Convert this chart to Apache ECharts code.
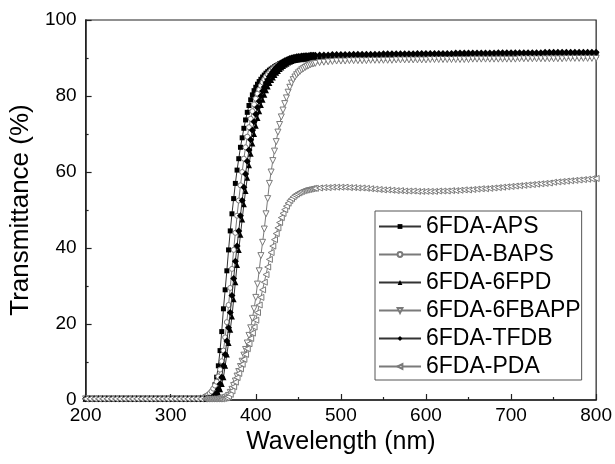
<!DOCTYPE html>
<html>
<head>
<meta charset="utf-8">
<script src="https://cdn.jsdelivr.net/npm/echarts@6/dist/echarts.min.js"></script>
<style>
  html, body { margin: 0; padding: 0; background: #fff; }
  #chart { width: 615px; height: 464px; }
</style>
</head>
<body>
<div id="chart"></div>
<script>
// Wavelength grid (nm): coarse on the flat baseline/plateau, finer across the absorption edge
const wavelength = [
  200,205,210,215,220,225,230,235,240,245,250,255,260,265,270,275,280,285,290,295,
  300,305,310,315,320,325,330,335,340,
  342,344,346,348,350,352,354,356,358,360,362,364,366,368,370,372,374,376,378,380,
  382,384,386,388,390,392,394,396,398,400,402,404,406,408,410,412,414,416,418,420,
  422,424,426,428,430,432,434,436,438,440,442,444,446,448,450,452,454,456,458,460,
  462,464,466,468,470,
  475,480,485,490,495,500,505,510,515,520,525,530,535,540,545,550,555,560,565,570,
  575,580,585,590,595,600,605,610,615,620,625,630,635,640,645,650,655,660,665,670,
  675,680,685,690,695,700,705,710,715,720,725,730,735,740,745,750,755,760,765,770,
  775,780,785,790,795,800
];

// Transmittance (%) of each polyimide film
const aps = [
  0.3,0.3,0.3,0.3,0.3,0.3,0.3,0.3,0.3,0.3,0.3,0.3,0.3,0.3,0.3,0.3,0.3,0.3,0.3,0.3,
  0.3,0.3,0.3,0.3,0.3,0.3,0.3,0.3,0.4,
  0.6,0.8,1.2,1.8,2.6,4,6,9,13,18,24,29,34,39.5,44.5,49,53,57,60.5,63.5,
  66.5,69,71.5,73.7,75.7,77.5,79,80.3,81.4,82.3,83.1,83.8,84.4,85,85.5,86,86.4,86.8,87.1,87.4,
  87.7,88,88.2,88.5,88.7,88.9,89,89.2,89.3,89.4,89.5,89.6,89.7,89.8,89.8,89.9,89.9,90,90,90.1,
  90.1,90.1,90.2,90.2,90.2,
  90.3,90.3,90.3,90.4,90.4,90.4,90.4,90.4,90.5,90.5,90.5,90.5,90.5,90.5,90.5,90.5,90.6,90.6,90.6,90.6,
  90.6,90.6,90.6,90.6,90.6,90.6,90.6,90.7,90.7,90.7,90.7,90.7,90.7,90.7,90.7,90.7,90.7,90.7,90.8,90.8,
  90.8,90.8,90.8,90.8,90.8,90.8,90.8,90.8,90.9,90.9,90.9,90.9,90.9,90.9,90.9,90.9,91,91,91,91,
  91,91,91,91,91.1,91.1
];
const baps = [
  0.3,0.3,0.3,0.3,0.3,0.3,0.3,0.3,0.3,0.3,0.3,0.3,0.3,0.3,0.3,0.3,0.3,0.3,0.3,0.3,
  0.3,0.3,0.3,0.3,0.3,0.3,0.4,0.6,0.9,
  1.1,1.4,1.8,2.3,3,3.8,4.8,6.2,8,10.2,13,16.5,20.5,25,29.5,34.5,39.5,44,48.5,52.5,
  56.5,60,63.5,66.5,69.3,71.8,74,76,77.8,79.3,80.6,81.7,82.7,83.6,84.4,85.1,85.7,86.2,86.7,87.1,
  87.5,87.8,88.1,88.3,88.5,88.7,88.9,89,89.1,89.2,89.3,89.4,89.4,89.5,89.5,89.6,89.6,89.6,89.7,89.7,
  89.7,89.7,89.8,89.8,89.8,
  89.8,89.9,89.9,89.9,89.9,90,90,90,90,90,90,90,90.1,90.1,90.1,90.1,90.1,90.1,90.1,90.1,
  90.1,90.1,90.1,90.2,90.2,90.2,90.2,90.2,90.2,90.2,90.2,90.2,90.2,90.2,90.2,90.2,90.2,90.3,90.3,90.3,
  90.3,90.3,90.3,90.3,90.3,90.3,90.3,90.3,90.3,90.3,90.3,90.3,90.4,90.4,90.4,90.4,90.4,90.4,90.4,90.4,
  90.4,90.4,90.4,90.4,90.5,90.5
];
const fpd6 = [
  0.3,0.3,0.3,0.3,0.3,0.3,0.3,0.3,0.3,0.3,0.3,0.3,0.3,0.3,0.3,0.3,0.3,0.3,0.3,0.3,
  0.3,0.3,0.3,0.3,0.3,0.3,0.3,0.3,0.3,
  0.3,0.3,0.4,0.5,0.6,0.8,1.2,1.8,2.8,4.2,6,9,12,15,18.5,22,26.5,31,35.5,39.5,
  43.5,47.5,51.5,55,58.5,61.8,64.8,67.5,70,72.2,74.2,76,77.6,79,80.3,81.5,82.5,83.4,84.2,84.9,
  85.5,86.1,86.6,87.1,87.5,87.9,88.2,88.5,88.8,89,89.2,89.4,89.5,89.6,89.7,89.8,89.8,89.9,89.9,90,
  90,90,90.1,90.1,90.1,
  90.2,90.2,90.2,90.3,90.3,90.3,90.3,90.3,90.3,90.4,90.4,90.4,90.4,90.4,90.4,90.5,90.5,90.5,90.5,90.5,
  90.5,90.5,90.6,90.6,90.6,90.6,90.6,90.6,90.6,90.6,90.7,90.7,90.7,90.7,90.7,90.7,90.7,90.7,90.7,90.8,
  90.8,90.8,90.8,90.8,90.8,90.8,90.8,90.9,90.9,90.9,90.9,90.9,90.9,90.9,90.9,91,91,91,91,91,
  91,91,91,91,91,91
];
const fbapp6 = [
  0.3,0.3,0.3,0.3,0.3,0.3,0.3,0.3,0.3,0.3,0.3,0.3,0.3,0.3,0.3,0.3,0.3,0.3,0.3,0.3,
  0.3,0.3,0.3,0.3,0.3,0.3,0.3,0.3,0.3,
  0.3,0.3,0.3,0.3,0.3,0.3,0.3,0.3,0.4,0.4,0.5,0.6,0.8,1.2,2,2.8,3.8,5,6.3,7.5,
  8.8,10.2,11.8,13.3,15,17,19,21.5,24,27,30.5,34,38,41.5,45,49,53,57,60,63,
  65.5,68,70.5,72.5,74.5,76.3,78,79.5,81,82.3,83.4,84.3,85,85.6,86.1,86.5,86.9,87.2,87.5,87.8,
  88,88.2,88.4,88.5,88.6,
  88.8,88.9,89,89.1,89.2,89.2,89.2,89.3,89.3,89.3,89.3,89.3,89.4,89.4,89.4,89.4,89.4,89.4,89.5,89.5,
  89.5,89.5,89.5,89.5,89.5,89.5,89.6,89.6,89.6,89.6,89.6,89.6,89.6,89.6,89.6,89.6,89.7,89.7,89.7,89.7,
  89.7,89.7,89.7,89.7,89.7,89.7,89.7,89.8,89.8,89.8,89.8,89.8,89.8,89.8,89.8,89.8,89.8,89.8,89.9,89.9,
  89.9,89.9,89.9,89.9,89.9,89.9
];
const tfdb = [
  0.3,0.3,0.3,0.3,0.3,0.3,0.3,0.3,0.3,0.3,0.3,0.3,0.3,0.3,0.3,0.3,0.3,0.3,0.3,0.3,
  0.3,0.3,0.3,0.3,0.3,0.3,0.3,0.3,0.3,
  0.3,0.4,0.5,0.6,0.8,1.2,1.8,2.8,4.2,6,9,12,15.5,19,23,27.5,32,36.5,40.5,44.5,
  48.5,52.5,56,59.5,62.8,65.8,68.5,71,73.2,75.2,77,78.6,80,81.3,82.4,83.4,84.3,85.1,85.8,86.4,
  87,87.5,87.9,88.3,88.7,89,89.3,89.5,89.7,89.9,90,90.1,90.2,90.3,90.4,90.4,90.5,90.5,90.6,90.6,
  90.6,90.7,90.7,90.7,90.7,
  90.8,90.8,90.8,90.9,90.9,90.9,90.9,90.9,91,91,91,91,91,91,91,91.1,91.1,91.1,91.1,91.1,
  91.1,91.1,91.1,91.2,91.2,91.2,91.2,91.2,91.2,91.2,91.2,91.2,91.3,91.3,91.3,91.3,91.3,91.3,91.3,91.3,
  91.3,91.3,91.4,91.4,91.4,91.4,91.4,91.4,91.4,91.4,91.4,91.4,91.4,91.5,91.5,91.5,91.5,91.5,91.5,91.5,
  91.5,91.5,91.5,91.5,91.5,91.5
];
const pda = [
  0.3,0.3,0.3,0.3,0.3,0.3,0.3,0.3,0.3,0.3,0.3,0.3,0.3,0.3,0.3,0.3,0.3,0.3,0.3,0.3,
  0.3,0.3,0.3,0.3,0.3,0.3,0.3,0.3,0.3,
  0.3,0.3,0.3,0.3,0.3,0.3,0.3,0.3,0.3,0.3,0.4,0.5,0.6,0.9,1.5,2.4,3.5,4.7,5.9,7,
  8.2,9.4,10.7,12,13.5,14.8,16.2,17.6,19.2,21,23,25,27,29,31,33,35,37,38.8,40.5,
  42.2,43.8,45.3,46.7,48,49.1,50.1,51,51.8,52.5,53,53.5,53.9,54.2,54.5,54.7,54.9,55.1,55.2,55.3,
  55.4,55.5,55.6,55.7,55.7,
  55.8,55.9,55.9,56,56,56,56,55.9,55.9,55.8,55.8,55.7,55.6,55.5,55.4,55.3,55.3,55.2,55.1,55.1,
  55,55,55,54.9,54.9,54.9,54.9,54.9,55,55,55,55.1,55.1,55.2,55.3,55.3,55.4,55.5,55.6,55.6,
  55.7,55.8,55.9,56,56.1,56.2,56.3,56.4,56.5,56.6,56.7,56.8,56.9,57,57.1,57.3,57.4,57.5,57.6,57.7,
  57.8,57.9,58,58.1,58.2,58.3
];

const seriesNames = ['6FDA-APS', '6FDA-BAPS', '6FDA-6FPD', '6FDA-6FBAPP', '6FDA-TFDB', '6FDA-PDA'];
const xTicks = { min: 200, max: 800, interval: 100 };
const yTicks = { min: 0, max: 100, interval: 20 };

const FONT = 'Liberation Sans';
const DARK = '#000';
const GREY = '#7a7a7a';

function pairs(values) {
  return wavelength.map((w, i) => [w, values[i]]);
}

// marker style per film: filled black or hollow grey
const styles = [
  { data: aps,    symbol: 'rect',     size: 5, rotate: 0,   filled: true },
  { data: baps,   symbol: 'circle',   size: 5, rotate: 0,   filled: false },
  { data: fpd6,   symbol: 'triangle', size: 6, rotate: 0,   filled: true },
  { data: fbapp6, symbol: 'triangle', size: 6, rotate: 180, filled: false },
  { data: tfdb,   symbol: 'diamond',  size: 7, rotate: 0,   filled: true },
  { data: pda,    symbol: 'triangle', size: 6, rotate: 90,  filled: false }
];

const series = styles.map((s, i) => ({
  name: seriesNames[i],
  type: 'line',
  data: pairs(s.data),
  symbol: s.symbol,
  symbolSize: s.size,
  symbolRotate: s.rotate,
  showAllSymbol: true,
  lineStyle: { color: s.filled ? '#333' : GREY, width: 1 },
  itemStyle: s.filled
    ? { color: DARK, borderColor: DARK, borderWidth: 0 }
    : { color: '#fff', borderColor: GREY, borderWidth: 1 },
  emphasis: { disabled: true },
  z: 2 + i
}));

const legendText = { fontFamily: FONT, fontSize: 23, color: '#000' };

const chart = echarts.init(document.getElementById('chart'), null, { renderer: 'canvas' });
chart.setOption({
  animation: false,
  backgroundColor: '#fff',
  textStyle: { fontFamily: FONT },
  grid: {
    left: 82, right: 16, top: 20, bottom: 64,
    show: true, borderColor: '#222', borderWidth: 1.2, backgroundColor: 'transparent'
  },
  legend: {
    orient: 'vertical',
    left: 375, top: 211,
    padding: [4, 1, 2, 3],
    itemWidth: 42, itemHeight: 6, itemGap: 5,
    backgroundColor: '#fff',
    borderColor: '#555', borderWidth: 1,
    textStyle: legendText,
    data: seriesNames.map(n => ({ name: n, textStyle: legendText }))
  },
  xAxis: {
    type: 'value',
    min: xTicks.min, max: xTicks.max, interval: xTicks.interval,
    name: 'Wavelength (nm)',
    nameLocation: 'middle', nameGap: 28,
    nameTextStyle: { fontFamily: FONT, fontSize: 25, color: '#000' },
    axisLine: { lineStyle: { color: '#222', width: 1.5 } },
    axisTick: { inside: true, length: 6, lineStyle: { color: '#222', width: 1.2 } },
    minorTick: { show: true, splitNumber: 2, length: 3, lineStyle: { color: '#222', width: 1.2 } },
    axisLabel: { fontFamily: FONT, fontSize: 19, color: '#000', margin: 6 },
    splitLine: { show: false }
  },
  yAxis: {
    type: 'value',
    min: yTicks.min, max: yTicks.max, interval: yTicks.interval,
    name: 'Transmittance (%)',
    nameLocation: 'middle', nameGap: 45,
    nameTextStyle: { fontFamily: FONT, fontSize: 26, color: '#000' },
    axisLine: { lineStyle: { color: '#222', width: 1.5 } },
    axisTick: { inside: true, length: 6, lineStyle: { color: '#222', width: 1.2 } },
    minorTick: { show: true, splitNumber: 2, length: 3, lineStyle: { color: '#222', width: 1.2 } },
    axisLabel: { fontFamily: FONT, fontSize: 19, color: '#000', margin: 9 },
    splitLine: { show: false }
  },
  series: series
});
</script>
</body>
</html>
